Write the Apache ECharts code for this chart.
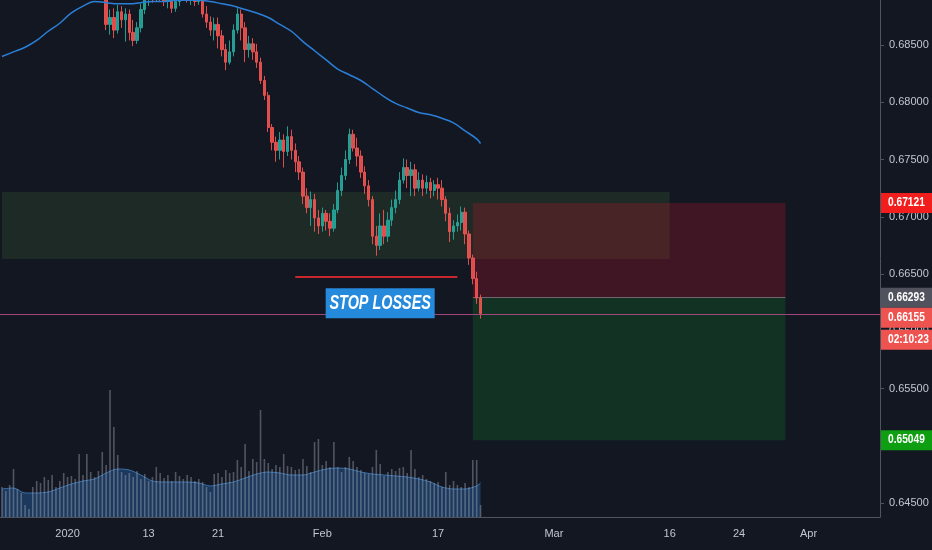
<!DOCTYPE html>
<html><head><meta charset="utf-8">
<script src="https://cdn.jsdelivr.net/npm/echarts@6/dist/echarts.min.js"></script>
<style>html,body{margin:0;padding:0;background:#131722;}#c{width:932px;height:550px;}</style>
</head><body><div id="c"></div>
<script>
// ---------- data ----------
const barCount = 228;                 // bars on the visible time span (3 per trading day)
const tickBars = [17, 38, 56, 83, 113, 143, 173, 191, 209];
const tickText = ['2020', '13', '21', 'Feb', '17', 'Mar', '16', '24', 'Apr'];
const priceTicks = [0.645, 0.650, 0.655, 0.660, 0.665, 0.670, 0.675, 0.680, 0.685];
const priceMin = 0.64378, priceMax = 0.68893;

const firstCandle = 27;               // earlier bars trade above the visible range
const opens = [
 0.6894,0.6868,0.6874,0.6863,0.6879,0.6872,0.6877,0.6861,0.6854,0.6865,
 0.6881,0.6891,0.6895,0.6892,0.6896,0.6893,0.6888,0.6891,0.6882,0.6888,
 0.6893,0.6896,0.6891,0.6895,0.6888,0.6893,0.6877,0.6870,0.6863,0.6868,
 0.6858,0.6846,0.6835,0.6844,0.6863,0.6877,0.6865,0.6846,0.6851,0.6844,
 0.6835,0.6819,0.6806,0.6778,0.6765,0.6758,0.6767,0.6757,0.6770,0.6758,
 0.6748,0.6739,0.6718,0.6708,0.6715,0.6699,0.6692,0.6703,0.6696,0.6690,
 0.6706,0.6723,0.6736,0.6750,0.6772,0.6760,0.6753,0.6739,0.6727,0.6715,
 0.6683,0.6675,0.6692,0.6683,0.6697,0.6708,0.6715,0.6732,0.6743,0.6736,
 0.6741,0.6725,0.6732,0.6725,0.6730,0.6723,0.6728,0.6725,0.6715,0.6703,
 0.6687,0.6692,0.6695,0.6704,0.6685,0.6664,0.6646,0.6629];
const closes = [
 0.6868,0.6874,0.6863,0.6879,0.6872,0.6877,0.6861,0.6854,0.6865,0.6881,
 0.6891,0.6895,0.6892,0.6896,0.6893,0.6888,0.6891,0.6882,0.6888,0.6893,
 0.6896,0.6891,0.6895,0.6888,0.6893,0.6877,0.6870,0.6863,0.6868,0.6858,
 0.6846,0.6835,0.6844,0.6863,0.6877,0.6865,0.6846,0.6851,0.6844,0.6835,
 0.6819,0.6806,0.6778,0.6765,0.6758,0.6767,0.6757,0.6770,0.6758,0.6748,
 0.6739,0.6718,0.6708,0.6715,0.6699,0.6692,0.6703,0.6696,0.6690,0.6706,
 0.6723,0.6736,0.6750,0.6772,0.6760,0.6753,0.6739,0.6727,0.6715,0.6683,
 0.6675,0.6692,0.6683,0.6697,0.6708,0.6715,0.6732,0.6743,0.6736,0.6741,
 0.6725,0.6732,0.6725,0.6730,0.6723,0.6728,0.6725,0.6715,0.6703,0.6687,
 0.6692,0.6695,0.6704,0.6685,0.6664,0.6646,0.6629,0.66155];
const lows = [
 0.6863,0.6859,0.6856,0.6860,0.6865,0.6853,0.6854,0.6849,0.6851,0.6861,
 0.6877,0.6884,0.6887,0.6888,0.6888,0.6884,0.6882,0.6878,0.6879,0.6884,
 0.6889,0.6887,0.6885,0.6884,0.6885,0.6874,0.6865,0.6858,0.6854,0.6847,
 0.6840,0.6828,0.6833,0.6840,0.6860,0.6854,0.6835,0.6839,0.6837,0.6830,
 0.6816,0.6802,0.6774,0.6758,0.6748,0.6750,0.6743,0.6753,0.6750,0.6739,
 0.6732,0.6711,0.6703,0.6692,0.6687,0.6685,0.6687,0.6688,0.6683,0.6687,
 0.6703,0.6718,0.6732,0.6746,0.6757,0.6744,0.6734,0.6720,0.6709,0.6676,
 0.6666,0.6671,0.6676,0.6678,0.6692,0.6703,0.6711,0.6729,0.6725,0.6718,
 0.6718,0.6722,0.6718,0.6720,0.6716,0.6718,0.6715,0.6709,0.6696,0.6678,
 0.6680,0.6687,0.6688,0.6676,0.6658,0.6641,0.6624,0.6611];
const highs = [
 0.6898,0.6881,0.6882,0.6885,0.6884,0.6882,0.6881,0.6872,0.6870,0.6886,
 0.6896,0.6900,0.6900,0.6902,0.6902,0.6898,0.6895,0.6895,0.6891,0.6898,
 0.6902,0.6902,0.6898,0.6898,0.6896,0.6896,0.6884,0.6875,0.6874,0.6874,
 0.6863,0.6851,0.6854,0.6868,0.6882,0.6881,0.6870,0.6858,0.6856,0.6851,
 0.6839,0.6823,0.6809,0.6781,0.6770,0.6774,0.6772,0.6779,0.6776,0.6764,
 0.6753,0.6743,0.6725,0.6722,0.6720,0.6706,0.6708,0.6706,0.6703,0.6711,
 0.6730,0.6743,0.6758,0.6777,0.6776,0.6769,0.6758,0.6744,0.6732,0.6718,
 0.6692,0.6703,0.6706,0.6704,0.6715,0.6723,0.6739,0.6751,0.6750,0.6748,
 0.6746,0.6739,0.6737,0.6736,0.6734,0.6732,0.6734,0.6732,0.6718,0.6708,
 0.6697,0.6702,0.6709,0.6708,0.6688,0.6667,0.6652,0.6632];

const volumes = [
 3000,2600,3200,4800,2800,2400,1200,800,3000,3600,
 3400,4000,3700,4200,3000,3600,4400,4000,4100,3800,
 6300,4200,6300,4500,4000,4600,6500,5200,12700,9000,
 6200,4500,4200,4400,4000,4600,3800,4300,3600,4000,
 5000,4400,3900,4200,3600,4500,4100,3800,4200,4000,
 3600,3800,3500,3000,2500,4300,4400,4000,4700,4400,
 4500,5700,5000,7300,4600,5800,5500,10700,5800,5400,
 4800,5200,5000,6300,5100,5000,4700,4800,5800,5100,
 4500,7500,7800,5200,5600,5000,7500,5000,4500,5000,
 6000,5600,5000,4700,4400,4300,5000,6700,5300,4100,
 4500,4800,4600,4900,5000,4400,6700,4800,4000,4200,
 3800,3600,3400,3500,3000,4500,3200,3600,3200,3000,
 3400,3000,5700,5700,1200];

// one reading per trading day (bar 3*d), last one on the final bar
const smaValues = [
 0.6840,0.6844,0.6848,0.6854,0.6862,0.6869,0.6878,0.6884,0.6888,0.6887,
 0.6886,0.6886,0.6887,0.6888,0.6888,0.6889,0.6889,0.6889,0.6888,0.6886,
 0.6884,0.6881,0.6878,0.6874,0.6868,0.6862,0.6853,0.6845,0.6837,0.6829,
 0.6824,0.6819,0.6812,0.6805,0.6799,0.6795,0.6791,0.6789,0.6786,0.6782,
 0.6775,0.6768,0.6764];
const volMaValues = [
 2800,2900,2400,2400,2500,2900,3300,3600,3800,4400,
 4800,4700,4200,3600,3500,3500,3500,3400,3100,3300,
 3500,3900,4300,4500,4400,4200,4200,4500,4800,4900,
 4800,4500,4300,4200,4100,4000,3800,3500,3000,2800,
 2800,3100,3400];
const lastBar = 124;

// drawings
const demandZone = {fromBar: 0, toBar: 173, top: 0.67217, bottom: 0.66632};
const trade = {fromBar: 122, toBar: 203, stop: 0.67121, entry: 0.66293, target: 0.65049};
const lastPrice = 0.66155;
const countdown = '02:10:23';
const stopLine = {fromBar: 76, toBar: 118, level: 0.66475};
const note = {bar: 98, price: 0.66245, text: 'STOP LOSSES'};

// ---------- build ----------
const FONT = "'Liberation Sans','DejaVu Sans',sans-serif";
const cats = Array.from({length: barCount}, (_, i) => String(i));
const tickLabel = {};
tickBars.forEach((b, k) => { tickLabel[b] = tickText[k]; });

const candleData = [];
for (let i = 0; i < firstCandle + opens.length; i++) {
  const k = i - firstCandle;
  candleData.push(k >= 0 ? [opens[k], closes[k], lows[k], highs[k]] : ['-', '-', '-', '-']);
}
function dailyLine(vals) {
  const arr = new Array(lastBar + 1).fill('-');
  vals.forEach((v, d) => { const b = d < vals.length - 1 ? 3 * d : lastBar; arr[b] = v; });
  return arr;
}

const chart = echarts.init(document.getElementById('c'), null, {renderer: 'canvas'});
const option = {
  backgroundColor: '#131722',
  animation: false,
  grid: {left: 0, right: 52, top: 0, bottom: 33},
  xAxis: {
    type: 'category', data: cats, boundaryGap: true,
    axisLine: {lineStyle: {color: '#505460'}},
    axisTick: {interval: (i) => i in tickLabel, alignWithLabel: true, length: 4, lineStyle: {color: '#505460'}},
    axisLabel: {interval: (i) => i in tickLabel, formatter: (v, i) => tickLabel[i] || '',
      color: '#c3c6ce', fontSize: 11, margin: 11, fontFamily: FONT},
    splitLine: {show: false}
  },
  yAxis: [{
    type: 'value', position: 'right', min: priceMin, max: priceMax,
    axisLine: {show: true, lineStyle: {color: '#505460'}},
    axisTick: {show: true, customValues: priceTicks, length: 4, lineStyle: {color: '#505460'}},
    axisLabel: {customValues: priceTicks, formatter: (v) => v.toFixed(5), color: '#c3c6ce',
      fontSize: 11, margin: 9, fontFamily: FONT},
    splitLine: {show: false}
  }, {
    type: 'value', min: 0, max: 51700, show: false
  }],
  series: [
    {
      type: 'line', data: [], z: 1, silent: true,
      markArea: {silent: true, data: [
        [{coord: [demandZone.fromBar, demandZone.top], itemStyle: {color: 'rgba(90,160,60,0.14)'}},
         {coord: [demandZone.toBar, demandZone.bottom]}],
        [{coord: [trade.fromBar, trade.stop], itemStyle: {color: 'rgba(215,20,45,0.24)'}},
         {coord: [trade.toBar, trade.entry]}],
        [{coord: [trade.fromBar, trade.entry], itemStyle: {color: 'rgba(20,150,40,0.22)'}},
         {coord: [trade.toBar, trade.target]}]
      ]}
    },
    {
      type: 'line', yAxisIndex: 1, data: dailyLine(volMaValues), connectNulls: true, smooth: 0.3,
      symbol: 'none', z: 2, silent: true,
      lineStyle: {color: '#3b70a8', width: 1},
      areaStyle: {color: 'rgba(40,100,165,0.65)'}
    },
    {
      type: 'bar', yAxisIndex: 1, data: volumes, barWidth: 1.6, z: 3, silent: true,
      itemStyle: {color: 'rgba(165,172,185,0.42)'}
    },
    {
      type: 'candlestick', data: candleData, barWidth: 2.9, z: 5, silent: true,
      itemStyle: {color: '#26a69a', color0: '#ef5350', borderColor: '#26a69a', borderColor0: '#ef5350', opacity: 0.92}
    },
    {
      type: 'line', data: dailyLine(smaValues), connectNulls: true, smooth: 0.4,
      symbol: 'none', z: 6, silent: true,
      lineStyle: {color: '#2b7fd8', width: 1.5}
    },
    {
      type: 'line', data: [], z: 10, silent: true,
      markLine: {silent: true, symbol: 'none', precision: 6, label: {show: false},
        data: [
          [{coord: [stopLine.fromBar, stopLine.level], lineStyle: {color: '#c8272c', width: 2, type: 'solid'}},
           {coord: [stopLine.toBar, stopLine.level]}],
          [{coord: [trade.fromBar, trade.entry], lineStyle: {color: 'rgba(160,165,170,0.55)', width: 1, type: 'solid'}},
           {coord: [trade.toBar, trade.entry]}]
        ]}
    }
  ]
};
chart.setOption(option);

const g = [];
const bandW = chart.convertToPixel({xAxisIndex: 0}, 1) - chart.convertToPixel({xAxisIndex: 0}, 0);
const axisX = chart.convertToPixel({xAxisIndex: 0}, barCount - 1) + bandW / 2;

// last-price line across the plot (drawn behind the note box)
const lastY = Math.round(chart.convertToPixel({yAxisIndex: 0}, lastPrice)) + 0.5;
g.push({type: 'line', z: 50, silent: true,
  shape: {x1: 0, y1: lastY, x2: axisX, y2: lastY},
  style: {stroke: '#a1457a', lineWidth: 1}});

// note box and text, anchored to a bar and a price
const notePt = chart.convertToPixel({xAxisIndex: 0, yAxisIndex: 0}, [note.bar, note.price]);
g.push({type: 'rect', z: 60, silent: true,
  shape: {x: notePt[0] - 54.5, y: notePt[1] - 15, width: 109, height: 30}, style: {fill: '#2589dc'}});
g.push({type: 'text', x: notePt[0], y: notePt[1], scaleX: 0.72, z: 102,
  style: {text: note.text, fill: '#ffffff', font: 'italic bold 20px ' + FONT, align: 'center', verticalAlign: 'middle'}});

// price tags on the right scale
const tags = [
  {value: trade.stop, bg: '#f21d1d'},
  {value: trade.entry, bg: '#50535e'},
  {value: lastPrice, bg: '#ef5350', sub: countdown},
  {value: trade.target, bg: '#0e9e12'}
];
const tagW = chart.getWidth() - axisX;
const tagH = 20;
let prevBottom = -Infinity;
tags.map(t => Object.assign({}, t, {y: chart.convertToPixel({yAxisIndex: 0}, t.value)}))
  .sort((a, b) => a.y - b.y)
  .forEach(t => {
    const top = Math.max(t.y - tagH / 2, prevBottom);
    const boxes = [t.value.toFixed(5)];
    if (t.sub) boxes.push(t.sub);
    boxes.forEach((txt, k) => {
      const y0 = top + k * (tagH + 2);
      g.push({type: 'rect', shape: {x: axisX + 1, y: y0, width: tagW, height: tagH}, style: {fill: t.bg}, z: 100});
      g.push({type: 'text', x: axisX + 8, y: y0 + tagH / 2, scaleX: 0.85, z: 101,
        style: {text: txt, fill: '#ffffff', font: 'bold 12px ' + FONT, verticalAlign: 'middle', align: 'left'}});
      prevBottom = y0 + tagH;
    });
  });
chart.setOption({graphic: g});
</script>
</body></html>
